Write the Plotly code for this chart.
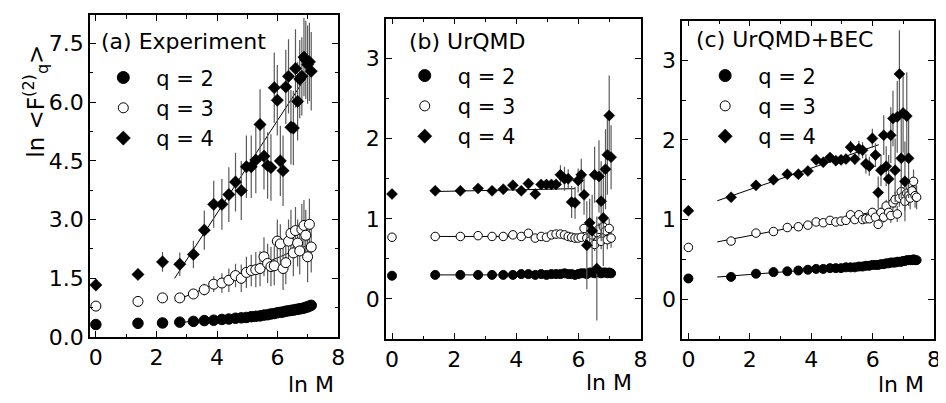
import plotly.graph_objects as go

# ---------------- data ----------------
# ln M values (M = 1, 4, 9, 16, ... cells)
lnM = [0.00, 1.39, 2.20, 2.77, 3.22, 3.58, 3.89, 4.16, 4.39, 4.61,
       4.80, 4.97, 5.13, 5.28, 5.42, 5.55, 5.67, 5.78, 5.89, 5.99,
       6.09, 6.18, 6.27, 6.36, 6.44, 6.52, 6.59, 6.66, 6.73, 6.80,
       6.87, 6.93, 6.99, 7.05, 7.11, 7.17, 7.22, 7.28, 7.33, 7.38, 7.43]

# (a) Experiment  (35 points)
a_q2 = [0.32, 0.35, 0.36, 0.38, 0.40, 0.42, 0.43, 0.45, 0.46, 0.48,
        0.49, 0.50, 0.52, 0.53, 0.54, 0.56, 0.57, 0.59, 0.60, 0.62,
        0.63, 0.64, 0.66, 0.67, 0.68, 0.69, 0.70, 0.71, 0.72, 0.73,
        0.74, 0.76, 0.77, 0.79, 0.81]
a_q3 = [0.79, 0.91, 1.00, 1.00, 1.10, 1.21, 1.35, 1.38, 1.45, 1.57,
        1.50, 1.65, 1.70, 1.72, 1.75, 2.05, 1.88, 1.80, 1.82, 2.45,
        2.38, 1.75, 1.90, 2.45, 2.65, 2.15, 2.72, 2.40, 2.20, 2.75,
        2.85, 2.60, 2.05, 2.88, 2.30]
a_q3_err = [0, 0, 0, 0.06, 0.10, 0.15, 0.20, 0.25, 0.30, 0.30,
            0.35, 0.40, 0.40, 0.45, 0.45, 0.50, 0.50, 0.50, 0.50, 0.55,
            0.50, 0.55, 0.55, 0.55, 0.60, 0.60, 0.60, 0.60, 0.60, 0.65,
            0.65, 0.65, 0.65, 0.65, 0.65]
a_q4 = [1.33, 1.60, 1.92, 1.86, 2.11, 2.73, 3.39, 3.39, 3.64, 3.96,
        3.74, 4.35, 4.35, 4.52, 5.43, 4.62, 4.38, 4.33, 6.37, 6.05,
        4.50, 4.25, 6.39, 6.66, 5.36, 5.34, 6.86, 6.02, 6.59, 6.66,
        7.15, 7.08, 6.96, 7.03, 6.79]
a_q4_err = [0, 0, 0.25, 0.30, 0.35, 0.50, 0.60, 0.65, 0.70, 0.75,
            0.75, 0.80, 0.80, 0.85, 0.90, 0.85, 0.85, 0.85, 0.90, 0.90,
            0.90, 0.90, 0.95, 0.95, 0.95, 0.95, 1.00, 1.00, 1.00, 1.00,
            1.00, 1.00, 1.00, 1.00, 1.00]

# (b) UrQMD  (34 points)
b_q2 = [0.29, 0.30, 0.30, 0.30, 0.30, 0.30, 0.30, 0.31, 0.31, 0.30,
        0.31, 0.30, 0.31, 0.31, 0.31, 0.32, 0.31, 0.31, 0.30, 0.31,
        0.32, 0.32, 0.31, 0.33, 0.33, 0.32, 0.34, 0.33, 0.32, 0.33,
        0.33, 0.32, 0.33, 0.32]
b_q2_err = [0, 0, 0, 0, 0, 0, 0, 0, 0, 0,
            0, 0, 0, 0, 0, 0, 0, 0, 0.01, 0.01,
            0.02, 0.02, 0.02, 0.03, 0.03, 0.03, 0.04, 0.04, 0.04, 0.05,
            0.05, 0.05, 0.05, 0.05]
b_q3 = [0.77, 0.78, 0.78, 0.79, 0.78, 0.78, 0.80, 0.78, 0.82, 0.76,
        0.78, 0.77, 0.80, 0.81, 0.81, 0.80, 0.78, 0.77, 0.76, 0.76,
        0.77, 0.88, 0.76, 0.72, 0.80, 0.68, 0.83, 0.87, 0.72, 0.90,
        0.85, 0.74, 0.88, 0.76]
b_q3_err = [0, 0, 0, 0, 0, 0, 0, 0, 0, 0,
            0, 0, 0, 0, 0, 0, 0.02, 0.02, 0.03, 0.03,
            0.04, 0.05, 0.05, 0.06, 0.06, 0.08, 0.08, 0.08, 0.10, 0.10,
            0.10, 0.12, 0.12, 0.12]
b_q4 = [1.31, 1.35, 1.35, 1.38, 1.35, 1.37, 1.42, 1.35, 1.44, 1.31,
        1.43, 1.43, 1.43, 1.43, 1.55, 1.50, 1.50, 1.21, 1.20, 1.48,
        1.55, 1.30, 0.67, 0.95, 0.85, 1.55, 0.38, 1.53, 1.22, 1.01,
        1.62, 1.80, 2.29, 1.77]
b_q4_err = [0, 0.02, 0.02, 0.02, 0.02, 0.03, 0.03, 0.03, 0.04, 0.04,
            0.04, 0.05, 0.05, 0.06, 0.12, 0.15, 0.12, 0.20, 0.20, 0.15,
            0.20, 0.25, 0.55, 0.30, 0.45, 0.35, 0.65, 0.45, 0.50, 0.60,
            0.50, 0.50, 0.50, 0.40]

# (c) UrQMD+BEC  (41 points for q=2,3 ; 36 points for q=4)
c_q2 = [0.26, 0.28, 0.32, 0.34, 0.35, 0.36, 0.37, 0.38, 0.38, 0.39,
        0.39, 0.39, 0.40, 0.40, 0.40, 0.41, 0.41, 0.42, 0.42, 0.43,
        0.43, 0.43, 0.44, 0.44, 0.45, 0.45, 0.46, 0.46, 0.46, 0.47,
        0.47, 0.47, 0.48, 0.48, 0.49, 0.49, 0.49, 0.49, 0.50, 0.49,
        0.49]
c_q3 = [0.65, 0.73, 0.83, 0.85, 0.90, 0.91, 0.93, 0.97, 0.96, 0.99,
        0.97, 0.98, 0.99, 1.06, 1.00, 1.06, 1.00, 1.01, 1.01, 1.09,
        1.03, 0.94, 1.09, 1.03, 1.17, 1.09, 1.05, 1.21, 1.25, 1.07,
        1.27, 1.35, 1.29, 1.23, 1.33, 1.30, 1.27, 1.36, 1.48, 1.30,
        1.28]
c_q3_err = [0, 0, 0, 0, 0, 0, 0, 0, 0, 0,
            0, 0, 0.02, 0.02, 0.02, 0.03, 0.03, 0.03, 0.04, 0.05,
            0.05, 0.06, 0.06, 0.07, 0.08, 0.08, 0.09, 0.10, 0.10, 0.10,
            0.11, 0.12, 0.12, 0.12, 0.13, 0.13, 0.14, 0.14, 0.15, 0.15,
            0.15]
c_q4 = [1.11, 1.28, 1.43, 1.50, 1.57, 1.57, 1.61, 1.75, 1.72, 1.78,
        1.74, 1.75, 1.76, 1.91, 1.76, 1.89, 1.87, 1.70, 1.67, 2.02,
        1.81, 1.34, 1.62, 2.06, 1.67, 1.51, 2.06, 2.27, 1.62, 2.29,
        2.83, 1.77, 2.34, 1.48, 2.30, 1.77]
c_q4_err = [0, 0, 0, 0, 0, 0, 0, 0, 0, 0.03,
            0.05, 0.05, 0.05, 0.08, 0.07, 0.10, 0.10, 0.12, 0.12, 0.12,
            0.15, 0.20, 0.20, 0.25, 0.25, 0.30, 0.35, 0.35, 0.40, 0.45,
            0.55, 0.50, 0.50, 0.50, 0.55, 0.50]

# linear fits: [intercept, slope, x_start, x_end] for q = 2, 3, 4
a_fits = [[0.104, 0.0945, 2.6, 7.15], [0.075, 0.325, 2.6, 7.15], [-1.586, 1.187, 2.6, 7.15]]
b_fits = [[0.30, 0.0, 1.39, 7.05], [0.78, 0.0, 1.39, 6.3], [1.33, 0.008, 1.39, 5.9]]
c_fits = [[0.25, 0.030, 0.94, 7.45], [0.65, 0.074, 0.94, 6.3], [1.11, 0.134, 0.94, 6.2]]

panel_titles = ["(a) Experiment", "(b) UrQMD", "(c) UrQMD+BEC"]
legend_labels = ["q = 2", "q = 3", "q = 4"]

# ---------------- figure ----------------
W, H = 946, 403
FONT = "DejaVu Sans, Arial, sans-serif"
ERRC = "#5a5a5a"

fig = go.Figure()

# pixel boxes for panels (left, right, top, bottom)
boxes = [(81.5, 332, 7.5, 340), (380, 637, 11, 342), (679, 933, 13, 342)]

def px2paper_x(p):
    return p / W

def px2paper_y(p):
    return 1 - p / H

panels = [
    dict(series=[a_q2, a_q3, a_q4], errs=[None, a_q3_err, a_q4_err], fits=a_fits,
         msize=[10.5, 10, 9.5]),
    dict(series=[b_q2, b_q3, b_q4], errs=[b_q2_err, b_q3_err, b_q4_err], fits=b_fits,
         msize=[9, 8.5, 8.5]),
    dict(series=[c_q2, c_q3, c_q4], errs=[None, c_q3_err, c_q4_err], fits=c_fits,
         msize=[9, 8.5, 8.5]),
]

styles = [
    dict(symbol="circle", fill="black", line=dict(color="black", width=1)),
    dict(symbol="circle", fill="white", line=dict(color="black", width=1)),
    dict(symbol="diamond", fill="black", line=dict(color="black", width=0.5)),
]
legend_sizes = [12, 10, 11]

for i, p in enumerate(panels):
    xa = "x" if i == 0 else f"x{i+1}"
    ya = "y" if i == 0 else f"y{i+1}"
    lg = "legend" if i == 0 else f"legend{i+1}"
    # fit lines first
    for fit in p["fits"]:
        b0, b1, xs, xe = fit
        fig.add_trace(go.Scatter(x=[xs, xe], y=[b0 + b1 * xs, b0 + b1 * xe], mode="lines",
                                 line=dict(color="black", width=1), showlegend=False,
                                 xaxis=xa, yaxis=ya, hoverinfo="skip"))
    for k, ser in enumerate(p["series"]):
        st = styles[k]
        err = p["errs"][k]
        tr = go.Scatter(x=lnM[:len(ser)], y=ser, mode="markers",
                        marker=dict(symbol=st["symbol"], size=p["msize"][k], color=st["fill"],
                                    line=st["line"]),
                        showlegend=False, xaxis=xa, yaxis=ya)
        if err is not None:
            tr.error_y = dict(type="data", array=err, visible=True, color=ERRC,
                              thickness=1.2, width=0)
        fig.add_trace(tr)
    # legend-only entries
    for k in range(3):
        st = styles[k]
        fig.add_trace(go.Scatter(x=[None], y=[None], mode="markers", name=legend_labels[k],
                                 marker=dict(symbol=st["symbol"], size=legend_sizes[k],
                                             color=st["fill"], line=st["line"]),
                                 legend=lg, xaxis=xa, yaxis=ya))

axis_common = dict(showline=True, linecolor="black", linewidth=1.5, mirror="ticks",
                   ticks="inside", ticklen=6, tickwidth=1.3, tickcolor="black",
                   showgrid=False, zeroline=False,
                   tickfont=dict(family=FONT, size=22, color="black"))

layout = dict(width=W, height=H, margin=dict(l=0, r=0, t=0, b=0),
              plot_bgcolor="white", paper_bgcolor="white",
              font=dict(family=FONT, size=21, color="black"))

xranges = [[-0.2, 8.0], [-0.2, 8.0], [-0.2, 8.0]]
yranges = [[0.0, 8.22], [-0.5, 3.5], [-0.5, 3.5]]
ydt = [1.5, 1.0, 1.0]
ymin = [0.75, 0.5, 0.5]
yfmt = [".1f", "d", "d"]

for i in range(3):
    l, r, t, b = boxes[i]
    xk = "xaxis" if i == 0 else f"xaxis{i+1}"
    yk = "yaxis" if i == 0 else f"yaxis{i+1}"
    ya = "y" if i == 0 else f"y{i+1}"
    xa = "x" if i == 0 else f"x{i+1}"
    layout[xk] = dict(axis_common, domain=[px2paper_x(l), px2paper_x(r)], range=xranges[i],
                      anchor=ya, tick0=0, dtick=2,
                      minor=dict(ticks="inside", ticklen=3.5, dtick=1, tick0=0, tickcolor="black", tickwidth=1.2))
    layout[yk] = dict(axis_common, domain=[px2paper_y(b), px2paper_y(t)], range=yranges[i],
                      anchor=xa, tick0=0, dtick=ydt[i], tickformat=yfmt[i],
                      minor=dict(ticks="inside", ticklen=3.5, dtick=ymin[i], tick0=0, tickcolor="black", tickwidth=1.2))

# legends (left px, top px)
legend_pos = [(82, 51), (386, 49), (689, 49)]
for i in range(3):
    lk = "legend" if i == 0 else f"legend{i+1}"
    lx, ly = legend_pos[i]
    layout[lk] = dict(x=px2paper_x(lx), y=px2paper_y(ly), xanchor="left", yanchor="top",
                      bgcolor="rgba(0,0,0,0)", borderwidth=0,
                      font=dict(family=FONT, size=21, color="black"),
                      itemwidth=56, tracegroupgap=0)

fig.update_layout(**layout)

# panel titles (center px)
title_pos = [(176, 35), (462, 35), (782, 33)]
for i in range(3):
    tx, ty = title_pos[i]
    fig.add_annotation(text=panel_titles[i], xref="paper", yref="paper",
                       x=px2paper_x(tx), y=px2paper_y(ty), xanchor="center", yanchor="middle",
                       showarrow=False, font=dict(family=FONT, size=22, color="black"))

# x axis titles
xt_pos = [(305, 389), (605, 387), (900, 389)]
for (tx, ty) in xt_pos:
    fig.add_annotation(text="ln M", xref="paper", yref="paper",
                       x=px2paper_x(tx), y=px2paper_y(ty), xanchor="center", yanchor="middle",
                       showarrow=False, font=dict(family=FONT, size=22, color="black"))

# y axis title
fig.add_annotation(text="ln &lt;F<sup>(2)</sup><sub>q</sub>&gt;", xref="paper", yref="paper",
                   x=px2paper_x(27), y=px2paper_y(96), xanchor="center", yanchor="middle",
                   textangle=-90, showarrow=False, font=dict(family=FONT, size=23, color="black"))

fig.write_html("out.html")
